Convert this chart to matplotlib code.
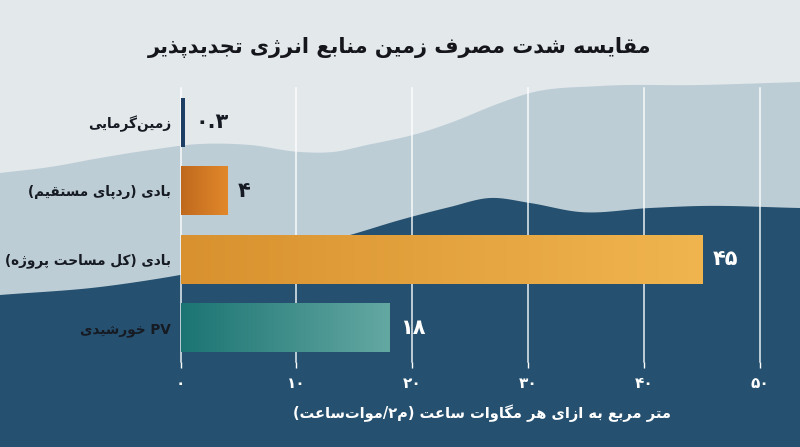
import re
import numpy as np
import matplotlib
matplotlib.use("Agg")
import matplotlib.pyplot as plt
from matplotlib.colors import LinearSegmentedColormap

# ---------------- data ----------------
categories = ["زمین‌گرمایی", "بادی (ردپای مستقیم)", "بادی (کل مساحت پروژه)", "PV خورشیدی"]
values = [0.3, 4, 45, 18]
value_labels = ["۰.۳", "۴", "۴۵", "۱۸"]
xticks = [0, 10, 20, 30, 40, 50]
xtick_labels = ["۰", "۱۰", "۲۰", "۳۰", "۴۰", "۵۰"]
title = "مقایسه شدت مصرف زمین منابع انرژی تجدیدپذیر"
xlabel = "متر مربع به ازای هر مگاوات ساعت (م۲/موات‌ساعت)"

# ---------------- simple Persian shaping + bidi ----------------
FORMS = {
    'ا': (0xFE8D, 0xFE8E), 'ب': (0xFE8F, 0xFE90, 0xFE91, 0xFE92),
    'پ': (0xFB56, 0xFB57, 0xFB58, 0xFB59), 'ت': (0xFE95, 0xFE96, 0xFE97, 0xFE98),
    'ج': (0xFE9D, 0xFE9E, 0xFE9F, 0xFEA0), 'ح': (0xFEA1, 0xFEA2, 0xFEA3, 0xFEA4),
    'خ': (0xFEA5, 0xFEA6, 0xFEA7, 0xFEA8), 'د': (0xFEA9, 0xFEAA),
    'ذ': (0xFEAB, 0xFEAC), 'ر': (0xFEAD, 0xFEAE), 'ز': (0xFEAF, 0xFEB0),
    'ژ': (0xFB8A, 0xFB8B), 'س': (0xFEB1, 0xFEB2, 0xFEB3, 0xFEB4),
    'ش': (0xFEB5, 0xFEB6, 0xFEB7, 0xFEB8), 'ص': (0xFEB9, 0xFEBA, 0xFEBB, 0xFEBC),
    'ع': (0xFEC9, 0xFECA, 0xFECB, 0xFECC), 'ف': (0xFED1, 0xFED2, 0xFED3, 0xFED4),
    'ق': (0xFED5, 0xFED6, 0xFED7, 0xFED8), 'ک': (0xFB8E, 0xFB8F, 0xFB90, 0xFB91),
    'گ': (0xFB92, 0xFB93, 0xFB94, 0xFB95), 'ل': (0xFEDD, 0xFEDE, 0xFEDF, 0xFEE0),
    'م': (0xFEE1, 0xFEE2, 0xFEE3, 0xFEE4), 'ن': (0xFEE5, 0xFEE6, 0xFEE7, 0xFEE8),
    'ه': (0xFEE9, 0xFEEA, 0xFEEB, 0xFEEC), 'و': (0xFEED, 0xFEEE),
    'ی': (0xFBFC, 0xFBFD, 0xFBFE, 0xFBFF),
}


def shape(s):
    out = []
    n = len(s)
    for i, c in enumerate(s):
        if c not in FORMS:
            if c == '\u200c':
                continue
            out.append(c)
            continue
        f = FORMS[c]
        prev = s[i - 1] if i > 0 else None
        nxt = s[i + 1] if i + 1 < n else None
        jp = prev in FORMS and len(FORMS[prev]) == 4
        jn = len(f) == 4 and nxt in FORMS
        if jp and jn:
            cp = f[3]
        elif jp:
            cp = f[1]
        elif jn:
            cp = f[2]
        else:
            cp = f[0]
        out.append(chr(cp))
    return ''.join(out)


def fa(s):
    rev = shape(s)[::-1]
    rev = re.sub(r'[A-Za-z0-9\u06F0-\u06F9]+(?:\.[A-Za-z0-9\u06F0-\u06F9]+)*',
                 lambda m: m.group(0)[::-1], rev)
    return rev.translate(str.maketrans({'(': ')', ')': '('}))


FONT = ['DejaVu Sans']
plt.rcParams['font.family'] = FONT

# ---------------- figure + background waves ----------------
W, H = 800, 447
fig = plt.figure(figsize=(8, 4.47), dpi=100)
TOP_C, MID_C, DARK_C = "#e3e8eb", "#bdcdd6", "#25506f"
fig.patch.set_facecolor(TOP_C)

bg = fig.add_axes([0, 0, 1, 1], zorder=0)
bg.set_xlim(0, W)
bg.set_ylim(H, 0)
bg.axis('off')


def smooth(xs, ys, n=600):
    xs = np.asarray(xs, float)
    ys = np.asarray(ys, float)
    m = np.gradient(ys, xs)
    xd = np.linspace(xs[0], xs[-1], n)
    idx = np.clip(np.searchsorted(xs, xd, side='right') - 1, 0, len(xs) - 2)
    h = xs[idx + 1] - xs[idx]
    t = (xd - xs[idx]) / h
    h00 = 2 * t**3 - 3 * t**2 + 1
    h10 = t**3 - 2 * t**2 + t
    h01 = -2 * t**3 + 3 * t**2
    h11 = t**3 - t**2
    return xd, h00 * ys[idx] + h10 * h * m[idx] + h01 * ys[idx + 1] + h11 * h * m[idx + 1]


w1x = [0, 50, 100, 150, 200, 250, 300, 333, 367, 420, 450, 500, 530, 600, 700, 800]
w1y = [173, 167, 158, 150, 144, 145, 152, 152, 145, 133, 123, 103, 93, 86, 85, 82]
w2x = [0, 100, 150, 180, 260, 350, 400, 450, 490, 530, 580, 650, 700, 800]
w2y = [295, 287, 280, 275, 257, 235, 220, 207, 198, 203, 212, 208, 206, 208]
x1, y1 = smooth(w1x, w1y)
x2, y2 = smooth(w2x, w2y)
bg.fill_between(x1, y1, H, color=MID_C, lw=0)
bg.fill_between(x2, y2, H, color=DARK_C, lw=0)

# ---------------- main axes ----------------
px = 11.59  # px per unit
x0 = 180.5
xmax = 52
ax = fig.add_axes([x0 / W, (H - 362) / H, xmax * px / W, 274 / H], zorder=1)
ax.patch.set_alpha(0)
for sp in ax.spines.values():
    sp.set_visible(False)
ax.set_xlim(0, xmax)
ax.set_ylim(3.5, -0.5)

ypos = np.arange(len(categories))
bar_h = 0.72
bars = ax.barh(ypos, values, height=bar_h, color='none', edgecolor='none', zorder=3)

grads = [("#1d3d63", "#1f4068"), ("#bf691d", "#e2882b"),
         ("#d8912e", "#f0b54f"), ("#1b7473", "#64a8a2")]
grad = np.linspace(0, 1, 256).reshape(1, -1)
for b, v, (c0, c1), y in zip(bars, values, grads, ypos):
    cmap = LinearSegmentedColormap.from_list("g", [c0, c1])
    im = ax.imshow(grad, cmap=cmap, aspect='auto', zorder=3,
                   extent=(0, v, y + bar_h / 2, y - bar_h / 2), interpolation='bilinear')
    im.set_clip_path(b)
ax.set_xlim(0, xmax)
ax.set_ylim(3.5, -0.5)

ax.set_xticks(xticks)
ax.set_xticklabels(xtick_labels, fontsize=11, fontweight='bold', color='white')
ax.tick_params(axis='x', length=4, width=1, color='white', pad=6)
ax.set_yticks(ypos)
ax.set_yticklabels([fa(c) for c in categories], fontsize=9.8, fontweight='bold', color='#161a22')
ax.tick_params(axis='y', length=0, pad=7)
ax.grid(axis='x', color='white', linewidth=1.1, alpha=0.9, zorder=1)
ax.grid(axis='y', visible=False)
ax.set_axisbelow(True)
for ln in ax.get_xgridlines():
    ln.set_clip_on(False)

label_colors = ['#161a22', '#161a22', 'white', 'white']
for v, lab, y, col in zip(values, value_labels, ypos, label_colors):
    ax.annotate(fa(lab), xy=(v, y), xytext=(8, 0), textcoords='offset points',
                ha='left', va='center', fontsize=15, fontweight='bold', color=col, zorder=4)

ax.set_xlabel(fa(xlabel), fontsize=10.5, fontweight='bold', color='white', labelpad=10)

fig.text(0.5, 1 - 47 / H, fa(title), ha='center', va='center',
         fontsize=15, fontweight='bold', color='#15161c')

fig.savefig('out.png', dpi=100, facecolor=fig.get_facecolor())
